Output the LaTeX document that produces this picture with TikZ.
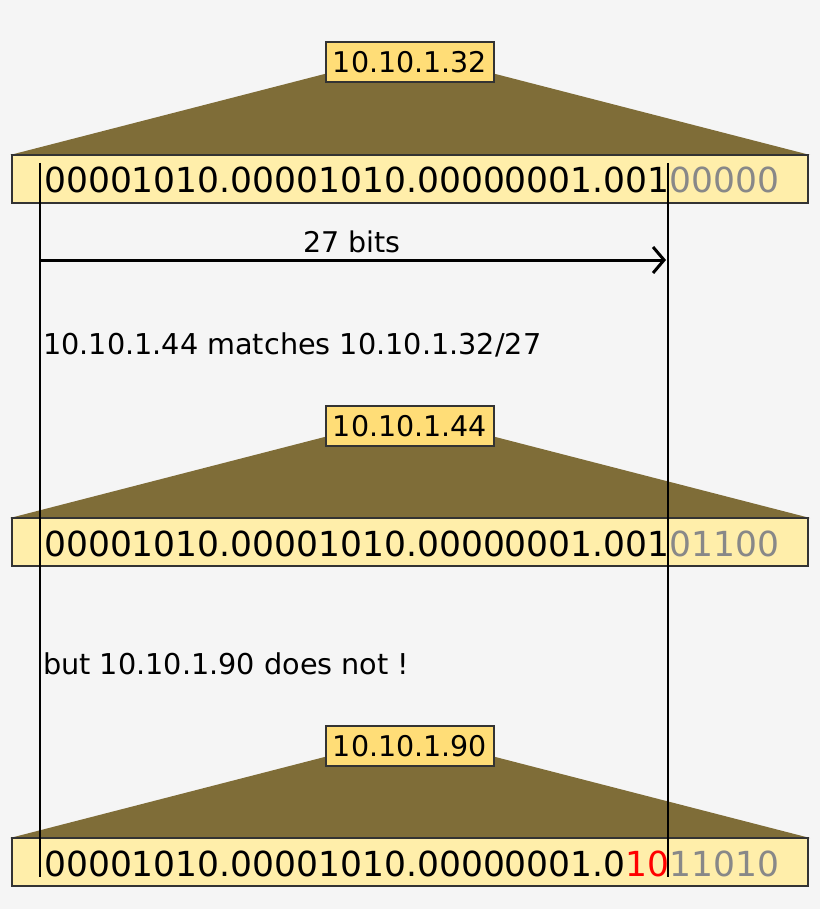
\documentclass[tikz,border=0pt]{standalone}
\usepackage{fontspec}
\setmainfont{DejaVu Sans}
\usetikzlibrary{arrows.meta}
\definecolor{bg}{HTML}{F5F5F5}
\definecolor{hill}{HTML}{7F6D38}
\definecolor{lab}{HTML}{FFDD77}
\definecolor{barfill}{HTML}{FFEEAA}
\definecolor{edge}{HTML}{333333}
\definecolor{restgray}{HTML}{888888}
\definecolor{bitred}{HTML}{FF0000}
\begin{document}
\begin{tikzpicture}[x=1pt,y=-1pt,
  labelbox/.style={draw=edge, line width=1.2pt, fill=lab, minimum width=168pt, minimum height=40pt, inner sep=0pt, font=\fontsize{28.5}{30}\selectfont},
  barbox/.style={draw=edge, line width=1.2pt, fill=barfill, minimum width=796pt, minimum height=48pt, inner sep=0pt},
  bits/.style={anchor=base west, inner sep=0pt, font=\fontsize{34.5}{40}\selectfont},
  note/.style={anchor=base west, inner sep=0pt, font=\fontsize{28.7}{30}\selectfont},
  marker/.style={line width=2.8pt, black}
]
\fill[bg] (0,0) rectangle (820,909);
\useasboundingbox (0,0) rectangle (820,909);

% block 1
\fill[hill] (10,155) -- (410,52) -- (810,155) -- cycle;
\node[barbox] (bar1) at (410,179) {};
\node[labelbox] (lab1) at (410,62) {10.10.1.32};
\node[bits] (bits1) at (44,193) {00001010.00001010.00000001.001\textcolor{restgray}{00000}};

% block 2
\fill[hill] (10,518) -- (410,415) -- (810,518) -- cycle;
\node[barbox] (bar2) at (410,542) {};
\node[labelbox] (lab2) at (410,426) {10.10.1.44};
\node[bits] (bits2) at (44,556) {00001010.00001010.00000001.001\textcolor{restgray}{01100}};

% block 3
\fill[hill] (10,838) -- (410,735) -- (810,838) -- cycle;
\node[barbox] (bar3) at (410,862) {};
\node[labelbox] (lab3) at (410,746) {10.10.1.90};
\node[bits] (bits3) at (44,876) {00001010.00001010.00000001.0\textcolor{bitred}{10}\textcolor{restgray}{11010}};

% notes
\node[note] (n1) at (43,354) {10.10.1.44 matches 10.10.1.32/27};
\node[note] (n2) at (43,674) {but 10.10.1.90 does not !};

% prefix markers
\coordinate (ltop) at (40,163);
\coordinate (lbot) at (40,877);
\coordinate (rtop) at (668,163);
\coordinate (rbot) at (668,877);
\draw[marker] (ltop) -- (lbot);
\draw[marker] (rtop) -- (rbot);

% arrow
\coordinate (astart) at (40,260);
\coordinate (aend) at (666,260);
\draw[line width=3pt, -{Straight Barb[length=11pt,width=26pt]}] (astart) -- (aend);
\node[anchor=base, inner sep=0pt, font=\fontsize{28.5}{30}\selectfont] (albl) at (352,252) {27 bits};
\end{tikzpicture}
\end{document}
